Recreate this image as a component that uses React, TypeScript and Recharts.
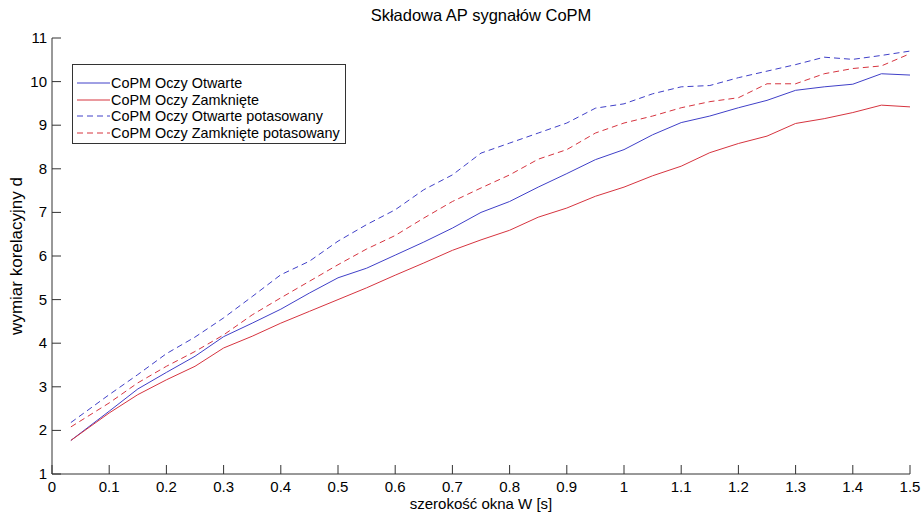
import { LineChart, Line, XAxis, YAxis } from 'recharts'

// szerokość okna W [s]
const windowWidths = [
  0.033, 0.1, 0.15, 0.2, 0.25, 0.3, 0.35, 0.4, 0.45, 0.5, 0.55, 0.6, 0.65, 0.7, 0.75,
  0.8, 0.85, 0.9, 0.95, 1.0, 1.05, 1.1, 1.15, 1.2, 1.25, 1.3, 1.35, 1.4, 1.45, 1.5,
]

const otwarte = [
  1.77, 2.44, 2.95, 3.33, 3.7, 4.15, 4.46, 4.78, 5.15, 5.5, 5.72, 6.02, 6.32, 6.64, 7.0,
  7.25, 7.58, 7.89, 8.21, 8.44, 8.78, 9.06, 9.21, 9.4, 9.57, 9.8, 9.88, 9.94, 10.18, 10.15,
]
const zamkniete = [
  1.77, 2.4, 2.82, 3.16, 3.47, 3.89, 4.16, 4.46, 4.73, 5.0, 5.27, 5.56, 5.84, 6.13, 6.37,
  6.59, 6.89, 7.1, 7.37, 7.58, 7.84, 8.06, 8.37, 8.58, 8.75, 9.04, 9.15, 9.29, 9.46, 9.42,
]
const otwartePot = [
  2.18, 2.82, 3.28, 3.76, 4.14, 4.58, 5.07, 5.57, 5.88, 6.34, 6.72, 7.06, 7.52, 7.86, 8.36,
  8.59, 8.82, 9.05, 9.39, 9.49, 9.72, 9.88, 9.91, 10.09, 10.24, 10.39, 10.56, 10.51, 10.6, 10.7,
]
const zamknietePot = [
  2.08, 2.63, 3.09, 3.47, 3.81, 4.19, 4.65, 5.04, 5.42, 5.8, 6.16, 6.47, 6.87, 7.25, 7.56,
  7.86, 8.22, 8.44, 8.82, 9.05, 9.21, 9.4, 9.54, 9.63, 9.95, 9.95, 10.18, 10.3, 10.36, 10.64,
]

const xTicks = [0, 0.1, 0.2, 0.3, 0.4, 0.5, 0.6, 0.7, 0.8, 0.9, 1, 1.1, 1.2, 1.3, 1.4, 1.5]
const yTicks = [1, 2, 3, 4, 5, 6, 7, 8, 9, 10, 11]

const BLUE = '#4040c8'
const RED = '#d6343f'
const AXIS = '#333'
const FONT = '"Liberation Sans", Arial, sans-serif'

const series = [
  { key: 'otwarte', name: 'CoPM Oczy Otwarte', color: BLUE, dash: undefined },
  { key: 'zamkniete', name: 'CoPM Oczy Zamknięte', color: RED, dash: undefined },
  { key: 'otwartePot', name: 'CoPM Oczy Otwarte potasowany', color: BLUE, dash: '6 4' },
  { key: 'zamknietePot', name: 'CoPM Oczy Zamknięte potasowany', color: RED, dash: '6 4' },
]

const data = windowWidths.map((w, i) => ({
  w,
  otwarte: otwarte[i],
  zamkniete: zamkniete[i],
  otwartePot: otwartePot[i],
  zamknietePot: zamknietePot[i],
}))

// ticks pointing inwards, matlab style
const BottomTick = ({ x, y, payload }: any) => (
  <g>
    <line x1={x} x2={x} y1={y} y2={y - 9} stroke={AXIS} />
    <text x={x} y={y + 18} textAnchor="middle" fontSize={15} fill="#000" fontFamily={FONT}>
      {payload.value}
    </text>
  </g>
)
const TopTick = ({ x, y }: any) => <line x1={x} x2={x} y1={y} y2={y + 9} stroke={AXIS} />
const LeftTick = ({ x, y, payload }: any) => (
  <g>
    <line x1={x} x2={x + 9} y1={y} y2={y} stroke={AXIS} />
    <text x={x - 5} y={y + 5} textAnchor="end" fontSize={15} fill="#000" fontFamily={FONT}>
      {payload.value}
    </text>
  </g>
)
const RightTick = ({ x, y }: any) => <line x1={x} x2={x - 9} y1={y} y2={y} stroke={AXIS} />

const LegendBox = () => (
  <div
    style={{
      position: 'absolute',
      left: 72,
      top: 64,
      width: 274,
      boxSizing: 'border-box',
      border: `1px solid ${AXIS}`,
      background: '#fff',
      padding: '10px 0 2px 4px',
      fontFamily: FONT,
      fontSize: 14.4,
      lineHeight: '16.5px',
      color: '#000',
      zIndex: 2,
    }}
  >
    {series.map((s) => (
      <div key={s.key} style={{ display: 'flex', alignItems: 'center', whiteSpace: 'nowrap' }}>
        <svg width={34} height={10}>
          <line x1={0} x2={33} y1={5} y2={5} stroke={s.color} strokeDasharray={s.dash} />
        </svg>
        <span>{s.name}</span>
      </div>
    ))}
  </div>
)

export default function App() {
  return (
    <div style={{ position: 'absolute', left: 0, top: 0, width: 922, height: 512, background: '#fff' }}>
      <LineChart
        width={922}
        height={512}
        data={data}
        margin={{ top: 38, right: 12, bottom: 8, left: 8 }}
        style={{ position: 'absolute', left: 0, top: 0 }}
      >
        <XAxis
          dataKey="w"
          type="number"
          domain={[0, 1.5]}
          ticks={xTicks}
          height={30}
          tickSize={0}
          tickMargin={0}
          tickLine={false}
          tick={<BottomTick />}
          axisLine={{ stroke: AXIS }}
          interval={0}
        />
        <XAxis
          xAxisId="top"
          orientation="top"
          dataKey="w"
          type="number"
          domain={[0, 1.5]}
          ticks={xTicks}
          height={0}
          tickSize={0}
          tickMargin={0}
          tickLine={false}
          tick={<TopTick />}
          axisLine={{ stroke: AXIS }}
          interval={0}
        />
        <YAxis
          domain={[1, 11]}
          ticks={yTicks}
          width={44}
          tickSize={0}
          tickMargin={0}
          tickLine={false}
          tick={<LeftTick />}
          axisLine={{ stroke: AXIS }}
          interval={0}
        />
        <YAxis
          yAxisId="right"
          orientation="right"
          domain={[1, 11]}
          ticks={yTicks}
          width={0}
          tickSize={0}
          tickMargin={0}
          tickLine={false}
          tick={<RightTick />}
          axisLine={{ stroke: AXIS }}
          interval={0}
        />
        {series.map((s) => (
          <Line
            key={s.key}
            dataKey={s.key}
            name={s.name}
            type="linear"
            stroke={s.color}
            strokeWidth={1}
            strokeDasharray={s.dash}
            dot={false}
            activeDot={false}
            isAnimationActive={false}
          />
        ))}
      </LineChart>
      <LegendBox />
      <div
        style={{
          position: 'absolute',
          left: 52,
          width: 858,
          top: 6,
          textAlign: 'center',
          fontFamily: FONT,
          fontSize: 16.5,
          color: '#000',
        }}
      >
        Składowa AP sygnałów CoPM
      </div>
      <div
        style={{
          position: 'absolute',
          left: 52,
          width: 858,
          top: 495,
          textAlign: 'center',
          fontFamily: FONT,
          fontSize: 15,
          lineHeight: '17px',
          color: '#000',
        }}
      >
        szerokość okna W [s]
      </div>
      <div
        style={{
          position: 'absolute',
          left: 17,
          top: 256,
          transform: 'translate(-50%, -50%) rotate(-90deg)',
          whiteSpace: 'nowrap',
          fontFamily: FONT,
          fontSize: 17,
          color: '#000',
        }}
      >
        wymiar korelacyjny d
      </div>
    </div>
  )
}
